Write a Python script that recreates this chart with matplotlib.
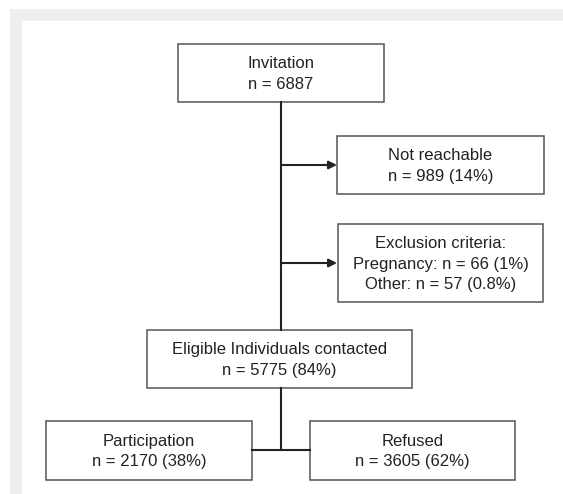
import matplotlib.pyplot as plt
from matplotlib.patches import Rectangle

plt.rcParams['font.family'] = ['Liberation Sans', 'DejaVu Sans']

# flowchart text
titles = ['Invitation', 'Not reachable', 'Exclusion criteria:',
          'Eligible Individuals contacted', 'Participation', 'Refused']
counts = ['n = 6887', 'n = 989 (14%)',
          'Pregnancy: n = 66 (1%)\nOther: n = 57 (0.8%)',
          'n = 5775 (84%)', 'n = 2170 (38%)', 'n = 3605 (62%)']

# box layout in pixels: (left, top, right, bottom)
boxes = [(178, 44, 384, 102),
         (337, 136, 544, 194),
         (338, 224, 543, 302),
         (147, 330, 412, 388),
         (46, 421, 252, 480),
         (310, 421, 515, 480)]

W, H = 563, 494
fig = plt.figure(figsize=(W/100, H/100), dpi=100)
ax = fig.add_axes([0, 0, 1, 1])
ax.set_xlim(0, W)
ax.set_ylim(H, 0)
ax.axis('off')

# grey frame (top and left)
ax.add_patch(Rectangle((10, 9), W-10, H-9, facecolor='#eeeeee', edgecolor='none'))
ax.add_patch(Rectangle((22, 21), W-22, H-21, facecolor='white', edgecolor='none'))

for (x0, y0, x1, y1), t, c in zip(boxes, titles, counts):
    ax.add_patch(Rectangle((x0, y0), x1-x0, y1-y0, facecolor='white',
                           edgecolor='#555555', linewidth=1.1))
    ax.text((x0+x1)/2, (y0+y1)/2 + 1, t + '\n' + c, ha='center', va='center',
            fontsize=12, color='#222222', linespacing=1.48)

lc = '#222222'
lw = 1.5
cx = 281
# main trunk
ax.plot([cx, cx], [102, 330], color=lc, lw=lw)
# side arrows
for y in [165, 263]:
    ax.annotate('', xy=(337, y), xytext=(cx, y),
                arrowprops=dict(arrowstyle='-|>', color=lc, lw=lw,
                                mutation_scale=12, shrinkA=0, shrinkB=0))
# split to participation / refused
ax.plot([cx, cx], [388, 450], color=lc, lw=lw)
ax.plot([252, 310], [450, 450], color=lc, lw=lw)

fig.savefig('out.png', dpi=100)
